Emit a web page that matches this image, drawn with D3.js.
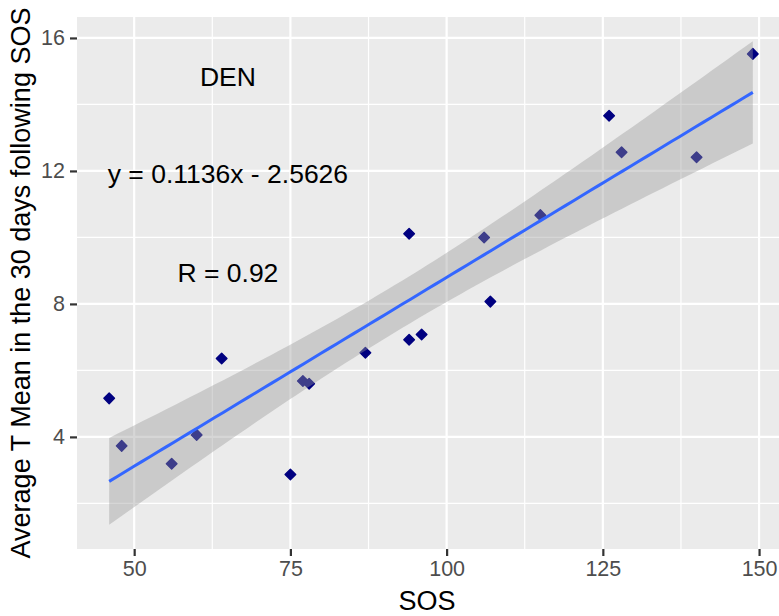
<!DOCTYPE html>
<html>
<head>
<meta charset="utf-8">
<script src="https://cdn.jsdelivr.net/npm/d3@7"></script>
<style>
  html, body { margin: 0; padding: 0; background: #ffffff; }
  svg { display: block; font-family: "Liberation Sans", Arial, sans-serif; }
</style>
</head>
<body>
<svg id="chart" width="779" height="616"></svg>
<script>
// SOS (day of year) for each season
const sos = [46, 48, 56, 60, 64, 75, 77, 78, 87, 94, 94, 96, 106, 107, 115, 126, 128, 140, 149];
// Mean temperature over the 30 days following SOS
const tmean = [5.16, 3.73, 3.19, 4.06, 6.36, 2.87, 5.68, 5.60, 6.53, 10.11, 6.92, 7.08, 10.00, 8.07, 10.67, 13.66, 12.56, 12.41, 15.52];

// Fitted line, as printed on the plot
const slope = 0.1136;
const intercept = -2.5626;
// 97.5% quantile of Student's t for n - 2 = 17 degrees of freedom
const tQuantile = 2.1098;

const xTicks = [50, 75, 100, 125, 150];
const xMinor = [62.5, 87.5, 112.5, 137.5];
const yTicks = [4, 8, 12, 16];
const yMinor = [2, 6, 10, 14];

const annotations = [
  { x: 65, y: 14.9, text: "DEN" },
  { x: 65, y: 12, text: "y = 0.1136x - 2.5626" },
  { x: 65, y: 9, text: "R = 0.92" }
];

const xTitle = "SOS";
const yTitle = "Average T Mean in the 30 days following SOS";

// Confidence band around the fitted line
const n = sos.length;
const xbar = d3.mean(sos);
const sxx = d3.sum(sos, x => (x - xbar) ** 2);
const sse = d3.sum(sos, (x, i) => (tmean[i] - (intercept + slope * x)) ** 2);
const sigma = Math.sqrt(sse / (n - 2));
const xMin = d3.min(sos), xMax = d3.max(sos);
const band = d3.range(80).map(i => {
  const x = xMin + (xMax - xMin) * i / 79;
  const fit = intercept + slope * x;
  const se = sigma * Math.sqrt(1 / n + (x - xbar) ** 2 / sxx);
  return { x, fit, lo: fit - tQuantile * se, hi: fit + tQuantile * se };
});

// Layout
const panel = { left: 77, top: 17, right: 785, bottom: 549 };

function expand(lo, hi) {
  const pad = (hi - lo) * 0.05;
  return [lo - pad, hi + pad];
}
const xDomain = expand(xMin, xMax);
const yDomain = expand(
  Math.min(d3.min(tmean), d3.min(band, d => d.lo)),
  Math.max(d3.max(tmean), d3.max(band, d => d.hi))
);

const x = d3.scaleLinear().domain(xDomain).range([panel.left, panel.right]);
const y = d3.scaleLinear().domain(yDomain).range([panel.bottom, panel.top]);

const svg = d3.select("#chart");

// Panel background
svg.append("rect")
  .attr("x", panel.left).attr("y", panel.top)
  .attr("width", panel.right - panel.left)
  .attr("height", panel.bottom - panel.top)
  .attr("fill", "#EBEBEB");

// Grid
const grid = svg.append("g").attr("stroke", "#ffffff").attr("fill", "none");
grid.selectAll(".ymin").data(yMinor).join("line")
  .attr("x1", panel.left).attr("x2", panel.right)
  .attr("y1", d => y(d)).attr("y2", d => y(d))
  .attr("stroke-width", 1.2);
grid.selectAll(".xmin").data(xMinor).join("line")
  .attr("y1", panel.top).attr("y2", panel.bottom)
  .attr("x1", d => x(d)).attr("x2", d => x(d))
  .attr("stroke-width", 1.2);
grid.selectAll(".ymaj").data(yTicks).join("line")
  .attr("x1", panel.left).attr("x2", panel.right)
  .attr("y1", d => y(d)).attr("y2", d => y(d))
  .attr("stroke-width", 2.2);
grid.selectAll(".xmaj").data(xTicks).join("line")
  .attr("y1", panel.top).attr("y2", panel.bottom)
  .attr("x1", d => x(d)).attr("x2", d => x(d))
  .attr("stroke-width", 2.2);

// Points
const diamond = r => `M0,${-r}L${r},0L0,${r}L${-r},0Z`;
svg.append("g").selectAll("path").data(sos).join("path")
  .attr("d", diamond(5.3))
  .attr("transform", (d, i) => `translate(${x(d)},${y(tmean[i])})`)
  .attr("fill", "#000080")
  .attr("stroke", "#000080")
  .attr("stroke-width", 1.4)
  .attr("stroke-linejoin", "round");

// Confidence ribbon and fitted line
svg.append("path")
  .datum(band)
  .attr("d", d3.area().x(d => x(d.x)).y0(d => y(d.lo)).y1(d => y(d.hi)))
  .attr("fill", "#999999")
  .attr("fill-opacity", 0.4);

svg.append("path")
  .datum(band)
  .attr("d", d3.line().x(d => x(d.x)).y(d => y(d.fit)))
  .attr("fill", "none")
  .attr("stroke", "#3366FF")
  .attr("stroke-width", 3);

// Annotations
svg.append("g").selectAll("text").data(annotations).join("text")
  .attr("x", d => x(d.x))
  .attr("y", d => y(d.y))
  .attr("dy", "0.44em")
  .attr("text-anchor", "middle")
  .attr("font-size", 26.5)
  .attr("fill", "#000000")
  .text(d => d.text);

// Axes
const xAxis = d3.axisBottom(x).tickValues(xTicks).tickSize(7).tickPadding(5);
const gx = svg.append("g").attr("transform", `translate(0,${panel.bottom})`).call(xAxis);
gx.select(".domain").remove();
gx.selectAll(".tick line").attr("stroke", "#333333").attr("stroke-width", 2.2);
gx.selectAll(".tick text").attr("fill", "#4D4D4D").attr("font-size", 21.5)
  .attr("font-family", "Liberation Sans, Arial, sans-serif");

const yAxis = d3.axisLeft(y).tickValues(yTicks).tickSize(7).tickPadding(5);
const gy = svg.append("g").attr("transform", `translate(${panel.left},0)`).call(yAxis);
gy.select(".domain").remove();
gy.selectAll(".tick line").attr("stroke", "#333333").attr("stroke-width", 2.2);
gy.selectAll(".tick text").attr("fill", "#4D4D4D").attr("font-size", 21.5)
  .attr("font-family", "Liberation Sans, Arial, sans-serif");

// Axis titles
svg.append("text")
  .attr("x", (panel.left + panel.right) / 2 - 4)
  .attr("y", 610)
  .attr("text-anchor", "middle")
  .attr("font-size", 27)
  .attr("fill", "#000000")
  .text(xTitle);

svg.append("text")
  .attr("transform", `translate(30,${(panel.top + panel.bottom) / 2}) rotate(-90)`)
  .attr("text-anchor", "middle")
  .attr("font-size", 27)
  .attr("fill", "#000000")
  .text(yTitle);
</script>
</body>
</html>
